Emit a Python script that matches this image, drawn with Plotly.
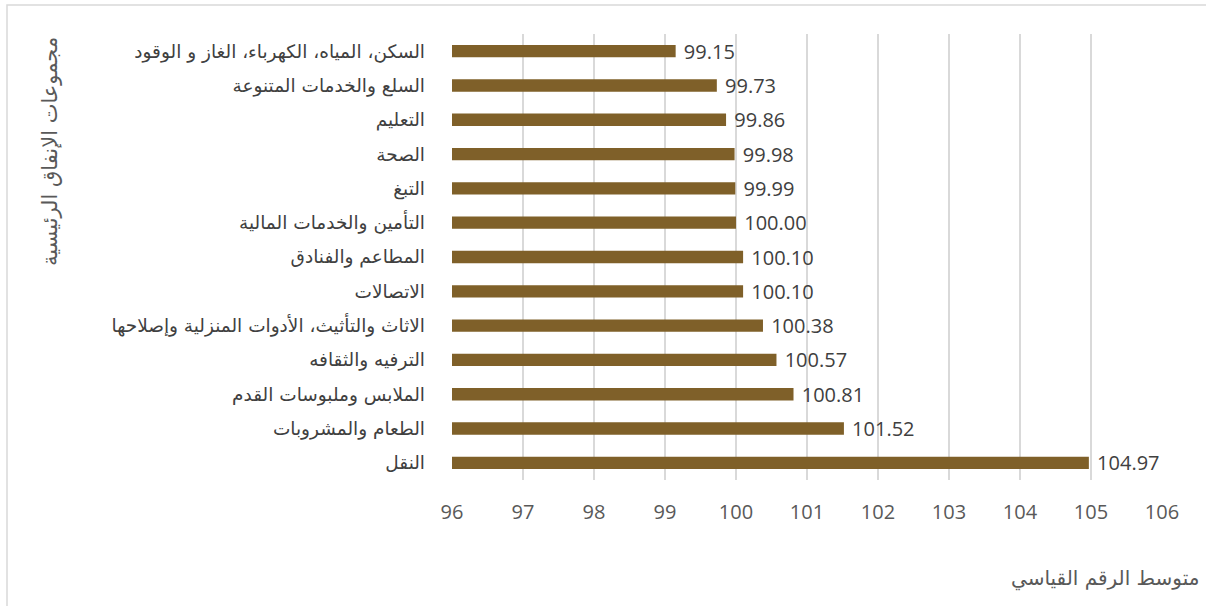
import plotly.graph_objects as go

categories = [
    "السكن، المياه، الكهرباء، الغاز و الوقود",
    "السلع والخدمات المتنوعة",
    "التعليم",
    "الصحة",
    "التبغ",
    "التأمين والخدمات المالية",
    "المطاعم والفنادق",
    "الاتصالات",
    "الاثاث والتأثيث، الأدوات المنزلية وإصلاحها",
    "الترفيه والثقافه",
    "الملابس وملبوسات القدم",
    "الطعام والمشروبات",
    "النقل",
]
values = [99.15, 99.73, 99.86, 99.98, 99.99, 100.00, 100.10, 100.10, 100.38, 100.57, 100.81, 101.52, 104.97]
x_ticks = [96, 97, 98, 99, 100, 101, 102, 103, 104, 105, 106]
x_title = "متوسط الرقم القياسي"
y_title = "مجموعات الإنفاق الرئيسية"

bar_color = "#7F6029"

fig = go.Figure(go.Bar(
    x=values,
    y=categories,
    orientation="h",
    marker=dict(color=bar_color, line=dict(width=0)),
    width=0.36,
    text=values,
    texttemplate=" %{x:.2f}",
    textposition="outside",
    constraintext="none",
    textfont=dict(family="Open Sans, Lato, sans-serif", size=20, color="#404040"),
    cliponaxis=False,
))

W, H = 1206, 606
L, R, T, B = 452, 44, 34, 126
pw, ph = W - L - R, H - T - B

def px_x(p):
    return (p - L) / pw

def px_y(p):
    return (H - B - p) / ph

fig.update_layout(
    width=W, height=H,
    margin=dict(l=L, r=R, t=T, b=B),
    plot_bgcolor="white",
    paper_bgcolor="white",
    showlegend=False,
    xaxis=dict(
        range=[96, 106],
        tickvals=x_ticks,
        ticktext=[str(v) for v in x_ticks],
        showgrid=True,
        gridcolor="#d9d9d9",
        gridwidth=1.5,
        zeroline=False,
        showline=False,
        ticks="",
        ticklabelstandoff=18,
        tickfont=dict(family="Open Sans, Lato, sans-serif", size=20, color="#595959"),
    ),
    yaxis=dict(
        autorange="reversed",
        showgrid=False,
        zeroline=False,
        showline=False,
        ticks="",
        ticklabelstandoff=26,
        tickfont=dict(family="DejaVu Sans, sans-serif", size=18.5, color="#404040"),
    ),
    shapes=[
        dict(type="rect", xref="paper", yref="paper",
             x0=px_x(7), x1=px_x(1210), y0=px_y(5), y1=px_y(610),
             line=dict(color="#d9d9d9", width=1.5), fillcolor="rgba(0,0,0,0)", layer="below"),
    ],
    annotations=[
        dict(text=y_title, xref="paper", yref="paper", x=px_x(50), y=px_y(152),
             textangle=-90, showarrow=False, xanchor="center", yanchor="middle",
             font=dict(family="DejaVu Sans, sans-serif", size=21, color="#595959")),
        dict(text=x_title, xref="paper", yref="paper", x=px_x(1201), y=px_y(578),
             showarrow=False, xanchor="right", yanchor="middle",
             font=dict(family="DejaVu Sans, sans-serif", size=20, color="#595959")),
    ],
)

fig.write_html("out.html", config={"displayModeBar": False},
               post_script="document.body.style.margin='0';document.body.style.overflow='hidden';")
